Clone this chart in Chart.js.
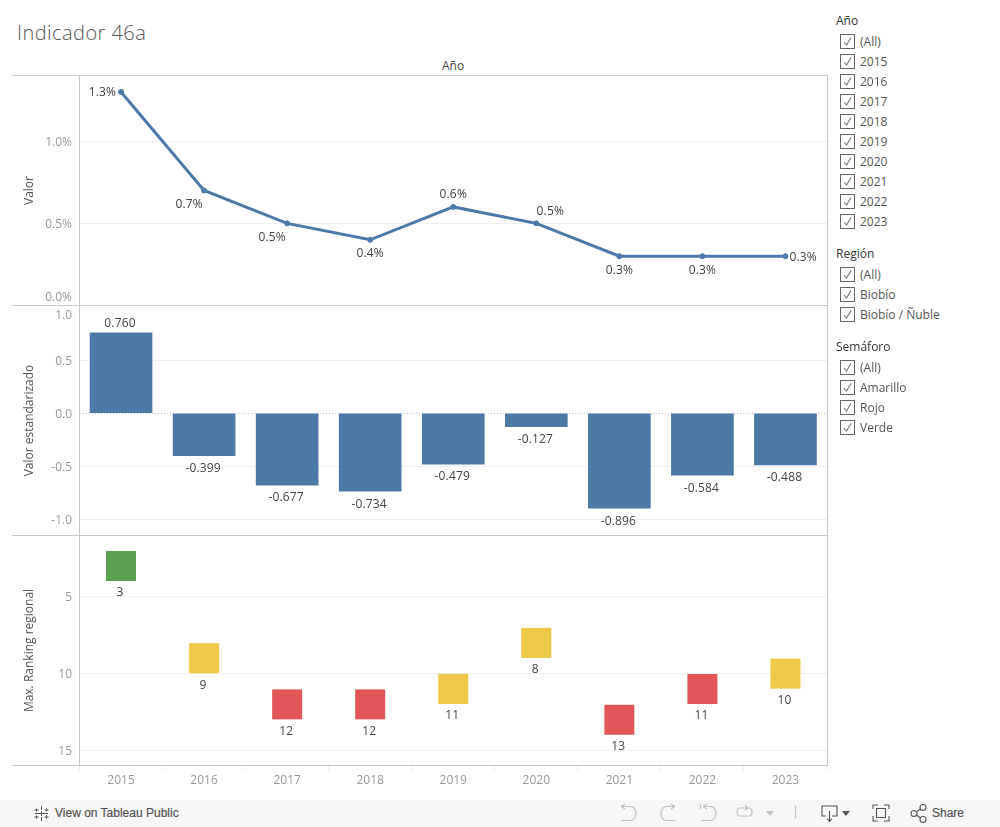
<!DOCTYPE html>
<html lang="es"><head><meta charset="utf-8"><title>Indicador 46a</title>
<script src="https://cdn.jsdelivr.net/npm/chart.js@4"></script>
<style>
html,body{margin:0;padding:0;background:#fff;width:1000px;height:827px;overflow:hidden;font-family:"Open Sans",sans-serif}
canvas{position:absolute;left:0;display:block}
.t{position:absolute;white-space:nowrap}
.h{position:absolute;background:#c8c8c8}
#side .row{position:absolute;left:840px;height:15px}
#side .box{position:absolute;left:0;top:0;width:13px;height:13px;border:1px solid #666;background:#fff}
#side svg{position:absolute;left:0;top:0}
#side .lab{position:absolute;left:20px;top:-1px;font-size:12px;line-height:17px;color:#555;white-space:nowrap}
#side .head{position:absolute;left:836px;font-size:12px;line-height:17px;color:#333}
#foot{position:absolute;left:0;top:800px;width:1000px;height:27px;background:#f7f7f7}
</style></head><body>
<canvas id="c1" width="828" height="231" style="top:75px;width:828px;height:231px"></canvas>
<canvas id="c2" width="828" height="231" style="top:305px;width:828px;height:231px"></canvas>
<canvas id="c3" width="828" height="262" style="top:535px;width:828px;height:262px"></canvas>
<div class="t" style="left:17px;top:18px;font-size:20px;line-height:30px;color:#555;font-weight:300;letter-spacing:.45px">Indicador 46a</div>
<div class="t" style="left:442px;top:57px;font-size:12px;line-height:17px;color:#444">Año</div>
<div class="h" style="left:12px;top:75px;width:816px;height:1px"></div>
<div class="h" style="left:12px;top:305px;width:816px;height:1px"></div>
<div class="h" style="left:12px;top:535px;width:816px;height:1px"></div>
<div class="h" style="left:12px;top:765px;width:816px;height:1px"></div>
<div class="h" style="left:79px;top:75px;width:1px;height:691px"></div>
<div class="h" style="left:827px;top:75px;width:1px;height:691px"></div>
<div id="side"></div>
<div id="foot">
<svg width="1000" height="27" style="position:absolute;left:0;top:0" fill="none">
<g stroke="#555" stroke-width="1">
<path d="M41.5 6v4M41.5 17v4M35 13.5h4M44 13.5h4M36.5 8.5v3M34.5 10h4M46.500 8.500v3M44.500 10h4M36.500 15.500v3M34.500 17h4M46.500 15.500v3M44.500 17h4M41.500 11v5M39 13.500h5"/>
</g>
<g stroke="#c4c4c4" stroke-width="1.200">
<path d="M621 6.500h9c8 0 8 14 0 14h-9M621 6.500l4-2.500M621 6.500l4 2.500"/>
<path d="M675 6.500h-8c-8 0-8 14 0 14h9M675 6.500l-4-2.500M675 6.500l-4 2.500"/>
<path d="M703 6.500h7c8 0 8 14 0 14h-9M703 6.500l4-2.500M703 6.500l4 2.500M700.500 4v5"/>
<path d="M740 8h9c4 0 4 8 0 8h-9c-4 0-4-8 0-8M748 8l-3-2.500M748 8l-3 2.500"/>
<path d="M795.500 6v12"/>
</g>
<path d="M766 11h8l-4 5z" fill="#c4c4c4"/>
<g stroke="#555" stroke-width="1.100">
<path d="M826 16h-4V6h15v10h-5M829.500 11v10M827 18.500l2.500 3 2.500-3"/>
<path d="M873 9V5h5M884 5h5v4M889 16v5h-5M878 21h-5v-5M876.500 8.500h9v9h-9z"/>
<circle cx="914" cy="13.500" r="3"/><circle cx="923" cy="7.500" r="3"/><circle cx="923" cy="19.500" r="3"/>
<path d="M916.500 12l4-3M916.500 15l4 3"/>
</g>
<path d="M842 11h8l-4 5z" fill="#555"/>
</svg>
<div class="t" style="left:55px;top:5px;font:12px/17px 'Liberation Sans',sans-serif;color:#555;-webkit-text-stroke:.2px #555">View on Tableau Public</div>
<div class="t" style="left:932px;top:5px;font:12px/17px 'Liberation Sans',sans-serif;color:#555;-webkit-text-stroke:.2px #555">Share</div>
</div>
<script>
// ---- Data ----
const years = ['2015','2016','2017','2018','2019','2020','2021','2022','2023'];
const valor = [1.3,0.7,0.5,0.4,0.6,0.5,0.3,0.3,0.3];
const valorEstandarizado = [0.760,-0.399,-0.677,-0.734,-0.479,-0.127,-0.896,-0.584,-0.488];
const ranking = [3,9,12,12,11,8,13,11,10];
const semaforo = ['Verde','Amarillo','Rojo','Rojo','Amarillo','Amarillo','Rojo','Rojo','Amarillo'];
const ticksValor = [0,0.5,1.0];
const ticksEstandar = [-1.0,-0.5,0,0.5,1.0];
const ticksRanking = [5,10,15];
const filtroAno = ['(All)','2015','2016','2017','2018','2019','2020','2021','2022','2023'];
const filtroRegion = ['(All)','Biobío','Biobío / Ñuble'];
const filtroSemaforo = ['(All)','Amarillo','Rojo','Verde'];

// ---- Styling ----
const FONT = '"Open Sans", sans-serif';
const BLUE = '#4e79a7';
const semColors = {Verde:'#59a14f',Amarillo:'#edc948',Rojo:'#e15759'};
const lineLabelPlacement = ['left','belowLeft','belowLeft','below','above','aboveRight','below','below','right'];
const placements = {
  left:{dx:-5,dy:1,align:'right'}, right:{dx:4,dy:1,align:'left'},
  below:{dx:0,dy:14,align:'center'}, above:{dx:0,dy:-12,align:'center'},
  belowLeft:{dx:-15,dy:14,align:'center'}, aboveRight:{dx:14,dy:-12,align:'center'}
};

function marksPlugin(cfg){
  return {
    id:'marks',
    beforeDraw(chart){
      // keep the edge tick labels inside their panel, as the reference does
      const shift = cfg.shift || {};
      chart.scales.y.getLabelItems().forEach(it=>{
        if(!it._moved){ it.options.translation[1]+=1+(shift[it.label]||0); it._moved=true; }
      });
    },
    afterDatasetsDraw(chart){
      const c = chart.ctx, meta = chart.getDatasetMeta(0);
      c.save(); c.font='12px '+FONT; c.fillStyle='#444'; c.textBaseline='middle'; c.letterSpacing='.15px';
      meta.data.forEach((el,i)=>{
        const p = cfg.place(i);
        c.textAlign = p.align;
        c.fillText(cfg.text(i), el.x+p.dx, el.y+p.dy);
      });
      c.restore();
    }
  };
}

function noPad(s){ s.paddingTop=s.paddingBottom=s.paddingLeft=s.paddingRight=0; }
function axisY(title, tickList, min, max, fmt, reverse){
  const isZero = c => c.tick && c.tick.value===0 && title==='Valor estandarizado';
  return {
    type:'linear', min, max, reverse,
    afterBuildTicks:s=>{ s.ticks = tickList.map(v=>({value:v})); },
    afterFit:s=>{ s.width = 79.5; noPad(s); },
    title:{display:true,text:title,color:'#555',font:{family:FONT,size:12},padding:{top:22,bottom:0}},
    ticks:{color:'#999',font:{family:FONT,size:12},padding:7.5,callback:fmt},
    grid:{drawTicks:false,color:c=>isZero(c)?'#bbb':'#efefef'},
    border:{display:false,dash:c=>isZero(c)?[1,2]:[]}
  };
}
function axisX(show){
  return {
    type:'category', offset:true,
    afterFit:s=>{ s.height = show?31.5:0; noPad(s); },
    ticks:{display:show,color:'#999',font:{family:FONT,size:12},padding:3,maxRotation:0,autoSkip:false},
    grid:{drawOnChartArea:false,drawTicks:show,offset:true,tickLength:5,color:'#ececec'},
    border:{display:false}
  };
}
function opts(y,x){
  return {
    responsive:false, animation:false,
    layout:{autoPadding:false,padding:{left:0,right:1,top:.5,bottom:x.ticks.display?0:.5}},
    scales:{x,y},
    plugins:{legend:{display:false},tooltip:{enabled:false}}
  };
}

new Chart(document.getElementById('c1'),{
  type:'line',
  plugins:[marksPlugin({
    shift:{'0.0%':-9},
    text:i=>valor[i].toFixed(1)+'%',
    place:i=>placements[lineLabelPlacement[i]]
  })],
  data:{labels:years,datasets:[{data:valor,borderColor:BLUE,backgroundColor:BLUE,borderWidth:3,pointRadius:2.5,pointHoverRadius:2.5,pointBorderWidth:1,tension:0,clip:false}]},
  options:opts(axisY('Valor',ticksValor,0,1.4,v=>v.toFixed(1)+'%',false),axisX(false))
});
new Chart(document.getElementById('c2'),{
  type:'bar',
  plugins:[marksPlugin({
    shift:{'1.0':7},
    text:i=>valorEstandarizado[i].toFixed(3),
    place:i=>({dx:-1,dy:valorEstandarizado[i]>=0?-9:13,align:'center'})
  })],
  data:{labels:years,datasets:[{data:valorEstandarizado,backgroundColor:BLUE,barThickness:62}]},
  options:opts(axisY('Valor estandarizado',ticksEstandar,-1.153,1.017,v=>v.toFixed(1),false),axisX(false))
});
new Chart(document.getElementById('c3'),{
  type:'line',
  plugins:[marksPlugin({
    text:i=>String(ranking[i]),
    place:()=>({dx:-1,dy:27,align:'center'})
  })],
  data:{labels:years,datasets:[{data:ranking,showLine:false,pointStyle:'rect',pointRadius:21.21,pointHoverRadius:21.21,pointBorderWidth:0,
    pointBackgroundColor:semaforo.map(s=>semColors[s]),clip:false}]},
  options:opts(axisY('Max. Ranking regional',ticksRanking,1.016,15.976,v=>String(v),true),axisX(true))
});

// ---- Filter panel ----
const side = document.getElementById('side');
function addFilter(title, items, topHead){
  const h=document.createElement('div'); h.className='head'; h.textContent=title; h.style.top=(topHead-8.5)+'px'; side.appendChild(h);
  items.forEach((it,i)=>{
    const r=document.createElement('div'); r.className='row'; r.style.top=(topHead+14+i*20)+'px';
    r.innerHTML='<div class="box"></div><svg width="15" height="15" fill="none"><path d="M4 8l2.500 3L11 3.500" stroke="#777" stroke-width="1.100"/></svg><div class="lab"></div>';
    r.querySelector('.lab').textContent=it; side.appendChild(r);
  });
}
addFilter('Año',filtroAno,20);
addFilter('Región',filtroRegion,253);
addFilter('Semáforo',filtroSemaforo,346);
</script>
</body></html>
